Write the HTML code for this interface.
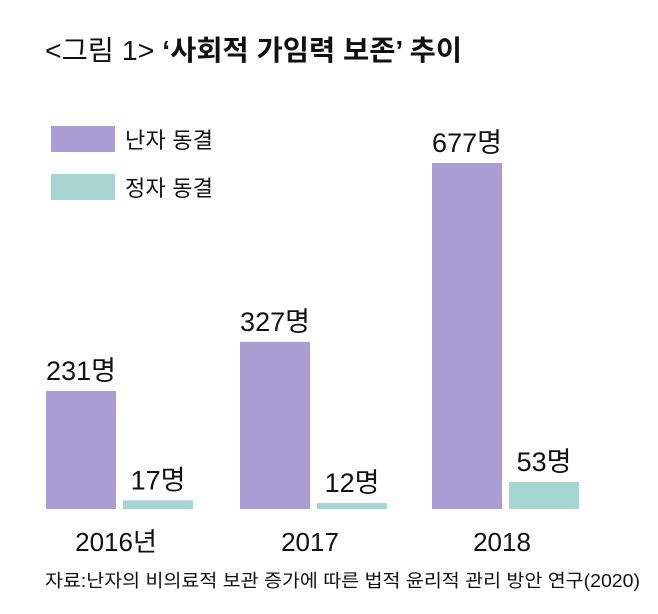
<!DOCTYPE html>
<html><head><meta charset="utf-8"><style>
body{margin:0;width:658px;height:609px;background:#fff;overflow:hidden;font-family:"Liberation Sans","Noto Sans CJK KR",sans-serif;}
svg text{font-family:"Liberation Sans","Noto Sans CJK KR",sans-serif;fill:#111;}
</style></head><body>
<svg id="chart" width="658" height="609" xmlns="http://www.w3.org/2000/svg">
<text x="45" y="60" font-size="28" textLength="417" lengthAdjust="spacingAndGlyphs"><tspan font-weight="normal">&lt;그림 1&gt; </tspan><tspan font-weight="bold">‘사회적 가임력 보존’ 추이</tspan></text>
<rect x="51" y="126" width="64" height="26" fill="#a99dd4"/>
<text x="125" y="148" font-size="22" textLength="88">난자 동결</text>
<rect x="51" y="174" width="64" height="26" fill="#a6d4cf"/>
<text x="125" y="196" font-size="22" textLength="88">정자 동결</text>
<g id="bars"></g>
<text x="45" y="587" font-size="18" textLength="595" lengthAdjust="spacingAndGlyphs">자료:난자의 비의료적 보관 증가에 따른 법적 윤리적 관리 방안 연구(2020)</text>
</svg>
<script>
const categories=["2016년","2017","2018"];
const eggValues=[231,327,677];
const spermValues=[17,12,53];
const baseY=509, pxPer=346/677;
const groupX=[46,240,432];
function y(v){return baseY-v*pxPer;}
const g=document.getElementById('bars');
const NS="http://www.w3.org/2000/svg";
categories.forEach((c,i)=>{
  const x0=groupX[i];
  [[eggValues[i],x0,"#a99dd4"],[spermValues[i],x0+77,"#a6d4cf"]].forEach(([v,x,col],k)=>{
    const r=document.createElementNS(NS,'rect');
    
    
    r.setAttribute('x',x);r.setAttribute('y',y(v));r.setAttribute('width',70);r.setAttribute('height',baseY-y(v));r.setAttribute('fill',col);
    g.appendChild(r);
    const t=document.createElementNS(NS,'text');
    
    
    t.setAttribute('x',x+35);t.setAttribute('y',y(v)-11);t.setAttribute('text-anchor','middle');t.setAttribute('font-size','27');
    t.textContent=v+'명';g.appendChild(t);
  });
  const l=document.createElementNS(NS,'text');
  
  
  l.setAttribute('x',x0+70);l.setAttribute('y',551);l.setAttribute('text-anchor','middle');l.setAttribute('font-size','26');
  l.textContent=c;g.appendChild(l);
});
</script>
</body></html>
